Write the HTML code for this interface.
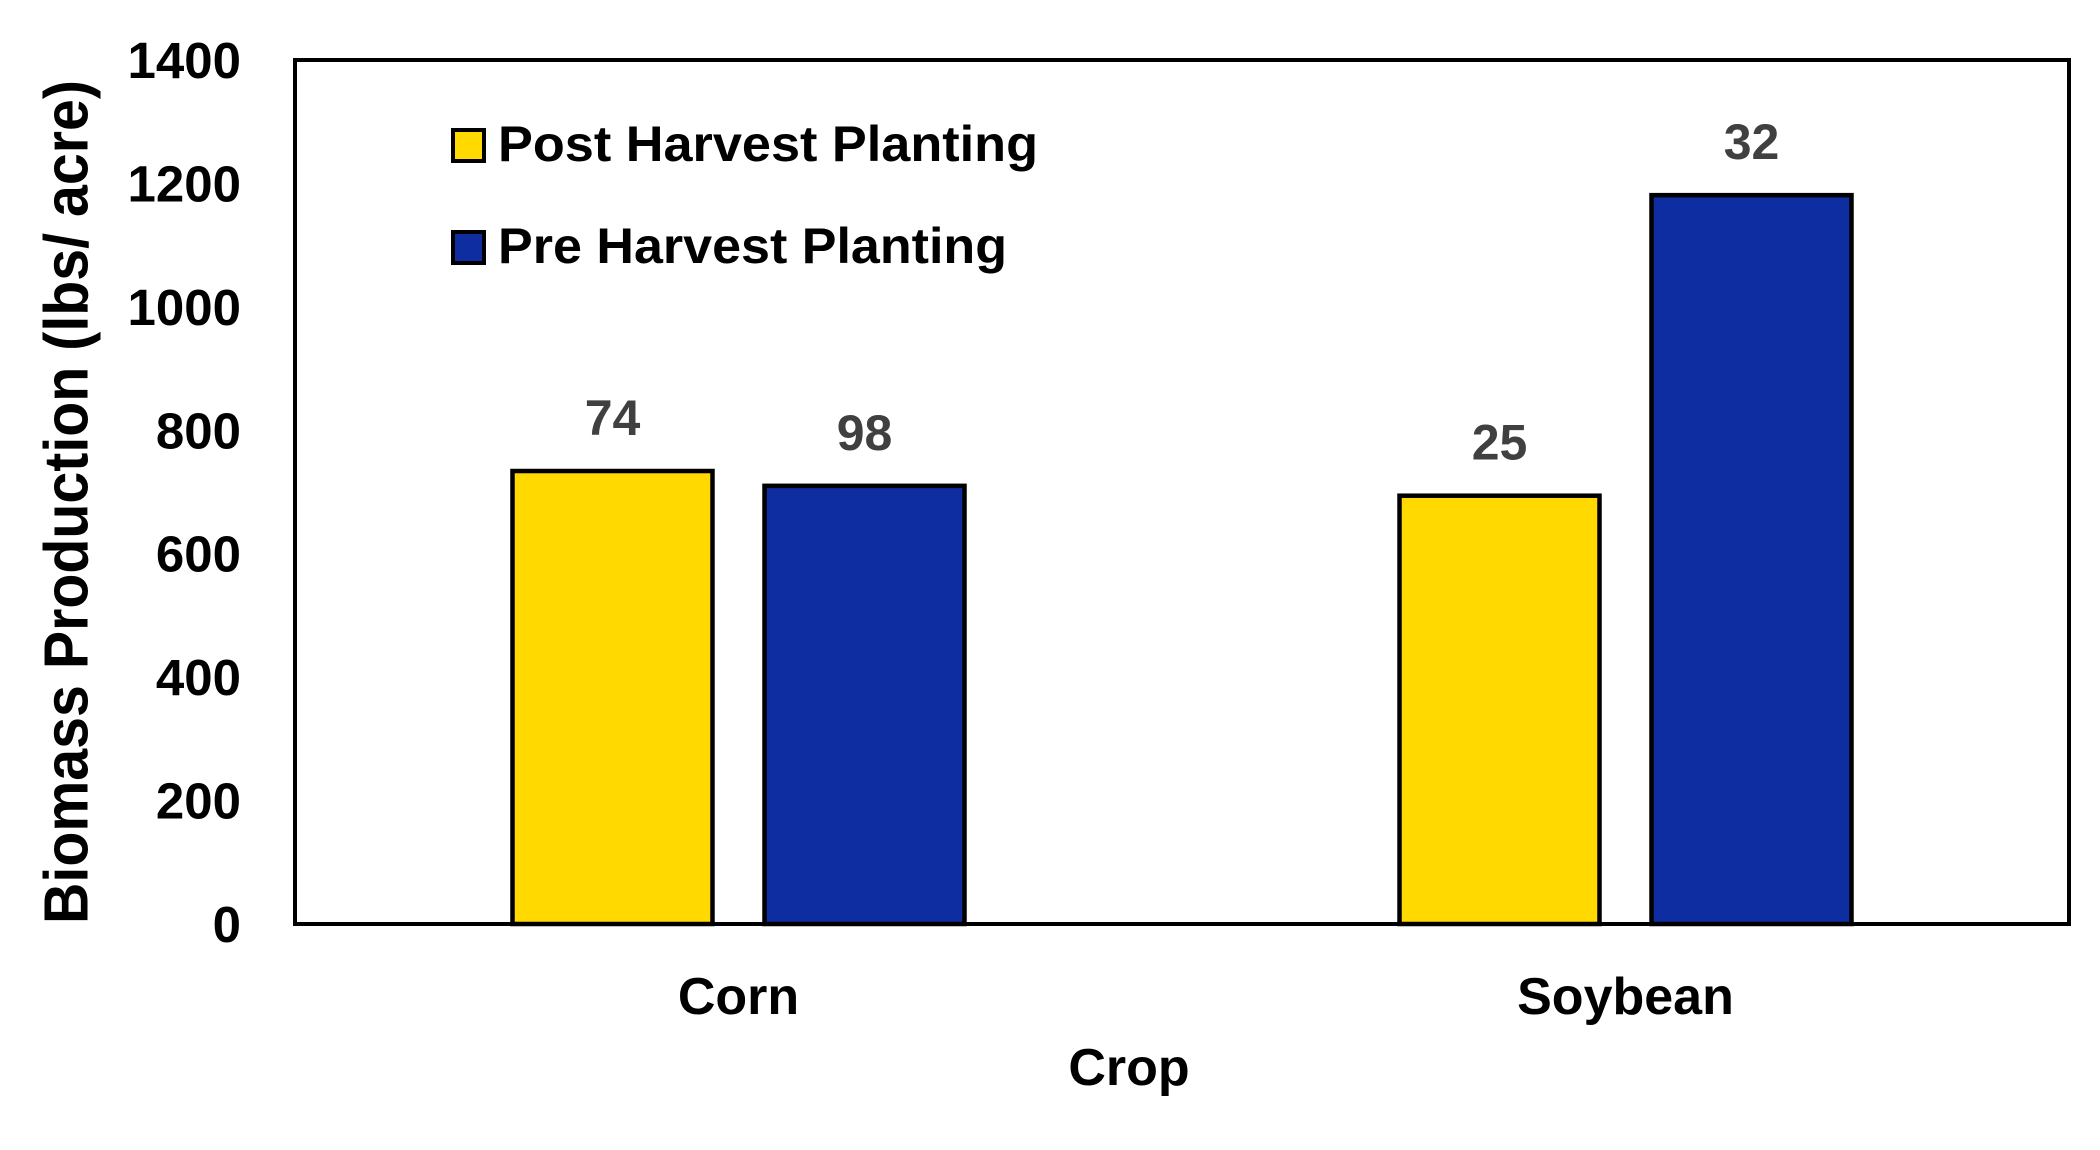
<!DOCTYPE html>
<html><head><meta charset="utf-8"><style>
html,body{margin:0;padding:0;background:#fff;}
svg{display:block;font-family:"Liberation Sans",sans-serif;font-weight:bold;}
</style></head><body>
<svg id="chart" width="2100" height="1150" viewBox="0 0 2100 1150" xmlns="http://www.w3.org/2000/svg">
<rect x="295" y="60" width="1774" height="864" fill="#fff" stroke="#000" stroke-width="4"/>
<g id="yticks"></g>
<g id="bars"></g>
<g id="xlabels"></g>
<text x="67" y="502" transform="rotate(-90 67 502)" text-anchor="middle" dominant-baseline="central" font-size="62" textLength="844" lengthAdjust="spacingAndGlyphs">Biomass Production (lbs/ acre)</text>
<text x="1129" y="1085" text-anchor="middle" font-size="52">Crop</text>
<g>
<rect x="453" y="130" width="31" height="31" fill="#FFD900" stroke="#000" stroke-width="4"/>
<text x="498" y="161" font-size="50" textLength="540" lengthAdjust="spacingAndGlyphs">Post Harvest Planting</text>
<rect x="453" y="232" width="31" height="31" fill="#0E2DA1" stroke="#000" stroke-width="4"/>
<text x="498" y="263" font-size="50" textLength="509" lengthAdjust="spacingAndGlyphs">Pre Harvest Planting</text>
</g>
</svg>
<script>
const categories = ["Corn", "Soybean"];
const postValues = [734, 694];
const preValues = [710, 1181];
const postLabels = ["74", "25"];
const preLabels = ["98", "32"];
const yTicks = [0, 200, 400, 600, 800, 1000, 1200, 1400];

const NS = "http://www.w3.org/2000/svg";
const X0 = 295, X1 = 2069, Y0 = 924, Y1 = 60, YMAX = 1400;
function yScale(v){ return Y0 - (v / YMAX) * (Y0 - Y1); }
function xCenter(i){ const w = (X1 - X0) / categories.length; return X0 + w * (i + 0.5); }
function mk(tag, attrs, parent){ const e = document.createElementNS(NS, tag); for (const k in attrs) e.setAttribute(k, attrs[k]); parent.appendChild(e); return e; }

const yg = document.getElementById("yticks");
yTicks.forEach(t => {
  const el = mk("text", {x: 241, y: yScale(t) + 18, "text-anchor": "end", "font-size": 51}, yg);
  
  
  el.textContent = t;
});

const bg = document.getElementById("bars");
const BW = 200, GAP = 52;
function drawSeries(vals, labels, color, offset, name){
  vals.forEach((v, i) => {
    const cx = xCenter(i) + offset;
    const top = yScale(v);
    const r = mk("rect", {x: cx - BW/2, y: top, width: BW, height: Y0 - top, fill: color, stroke: "#000", "stroke-width": 4.5}, bg);
    
    
    const t = mk("text", {x: cx, y: top - 36, "text-anchor": "middle", "font-size": 50, fill: "#404040"}, bg);
    
    
    t.textContent = labels[i];
  });
}
drawSeries(postValues, postLabels, "#FFD900", -(BW + GAP) / 2, "post");
drawSeries(preValues, preLabels, "#0E2DA1", (BW + GAP) / 2, "pre");

const xg = document.getElementById("xlabels");
categories.forEach((c, i) => {
  const t = mk("text", {x: xCenter(i), y: 1014, "text-anchor": "middle", "font-size": 52}, xg);
  
  
  t.textContent = c;
});
</script>
</body></html>
